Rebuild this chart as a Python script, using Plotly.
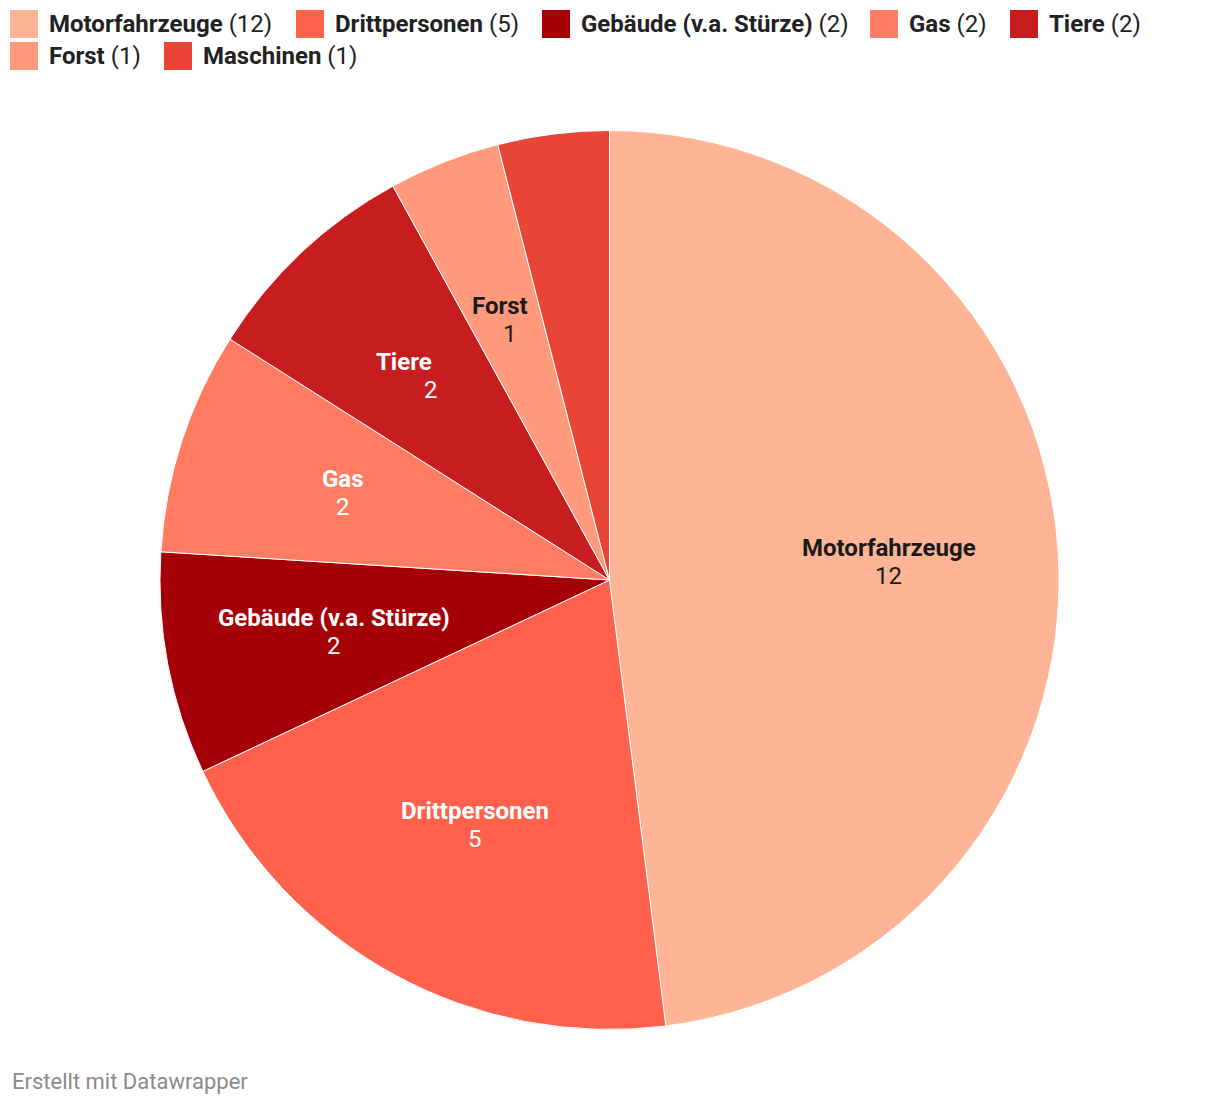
import math
import plotly.graph_objects as go

categories = ["Motorfahrzeuge", "Drittpersonen", "Gebäude (v.a. Stürze)", "Gas", "Tiere", "Forst", "Maschinen"]
values = [12, 5, 2, 2, 2, 1, 1]
colors = ["#ffb595", "#ff614d", "#a50008", "#ff7b61", "#c81d1f", "#ff9a7d", "#e84537"]
label_colors = ["#1a1a1a", "#ffffff", "#ffffff", "#ffffff", "#ffffff", "#1a1a1a", None]
# small horizontal nudges of slice labels (name, value), in px
label_nudge = [(0, 0), (0, 0), (0, 0), (0, 0), (-14, 13), (-6, 4), (0, 0)]

W, H = 1220, 1106
cx, cy, R = 609.5, 580, 449.5

fig = go.Figure()
fig.add_trace(go.Pie(
    labels=categories, values=values, sort=False, direction="clockwise", rotation=0,
    marker=dict(colors=colors, line=dict(color="#ffffff", width=1)),
    textinfo="none", showlegend=False,
    domain=dict(x=[(cx - R) / W, (cx + R) / W], y=[1 - (cy + R) / H, 1 - (cy - R) / H]),
))

annotations = []
shapes = []

# slice labels
total = sum(values)
cum = 0
label_r = 280
for cat, v, lc, (dn, dv) in zip(categories, values, label_colors, label_nudge):
    mid = (cum + v / 2) / total * 2 * math.pi
    cum += v
    if lc is None:
        continue
    px = cx + label_r * math.sin(mid)
    py = cy - label_r * math.cos(mid)
    annotations.append(dict(x=px / W, y=1 - py / H, xref="paper", yref="paper", text="<b>" + cat + "</b>",
                            showarrow=False, xanchor="center", yanchor="middle", yshift=14, xshift=dn,
                            font=dict(family="Roboto", size=24, color=lc)))
    annotations.append(dict(x=px / W, y=1 - py / H, xref="paper", yref="paper", text=str(v),
                            showarrow=False, xanchor="center", yanchor="middle", yshift=-14, xshift=dv,
                            font=dict(family="Roboto", size=24, color=lc)))

# legend
legend_pos = [(10, 24), (296, 24), (542, 24), (870, 24), (1010, 24), (10, 56), (164, 56)]
for cat, v, col, (lx, ly) in zip(categories, values, colors, legend_pos):
    shapes.append(dict(type="rect", xref="paper", yref="paper",
                       x0=lx / W, x1=(lx + 28) / W, y0=1 - (ly - 14) / H, y1=1 - (ly + 14) / H,
                       fillcolor=col, line=dict(width=0)))
    annotations.append(dict(x=(lx + 37) / W, y=1 - ly / H, xref="paper", yref="paper",
                            text="<b>" + cat + "</b> (" + str(v) + ")", showarrow=False,
                            xanchor="left", yanchor="middle",
                            font=dict(family="Roboto", size=24, color="#222222")))

annotations.append(dict(x=10 / W, y=1 - 1081 / H, xref="paper", yref="paper", text="Erstellt mit Datawrapper",
                        showarrow=False, xanchor="left", yanchor="middle",
                        font=dict(family="Roboto", size=22, color="#8a8a8a")))

fig.update_layout(width=W, height=H, margin=dict(l=0, r=0, t=0, b=0),
                  paper_bgcolor="#ffffff", plot_bgcolor="#ffffff",
                  annotations=annotations, shapes=shapes)
fig.write_html("out.html")
